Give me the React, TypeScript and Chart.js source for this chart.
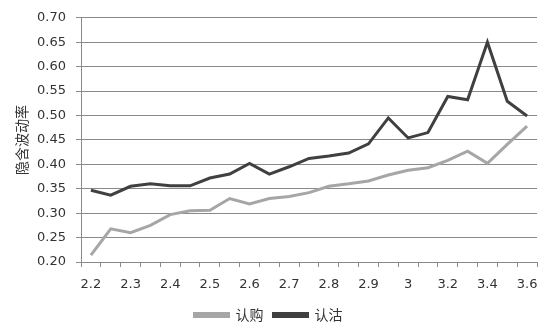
import React, { useEffect, useRef } from "react";
import { Chart, registerables } from "chart.js";

Chart.register(...registerables);

const categories = [
  "2.2", "2.25", "2.3", "2.35", "2.4", "2.45", "2.5", "2.55", "2.6", "2.65",
  "2.7", "2.75", "2.8", "2.85", "2.9", "2.95", "3", "3.1", "3.2", "3.3",
  "3.4", "3.5", "3.6",
];

const callValues = [
  0.214, 0.268, 0.26, 0.275, 0.297, 0.305, 0.306, 0.33, 0.319, 0.33,
  0.334, 0.342, 0.355, 0.36, 0.366, 0.378, 0.388, 0.393, 0.408, 0.427,
  0.402, 0.441, 0.478,
];

const putValues = [
  0.347, 0.337, 0.355, 0.36, 0.356, 0.356, 0.372, 0.38, 0.402, 0.38,
  0.395, 0.412, 0.417, 0.423, 0.442, 0.495, 0.454, 0.465, 0.539, 0.532,
  0.65, 0.529, 0.499,
];

const seriesNames = ["认购", "认沽"];
const yTitle = "隐含波动率";

export default function App() {
  const ref = useRef<HTMLCanvasElement | null>(null);

  useEffect(() => {
    if (!ref.current) return;
    const gridColor = "#8a8a8a";
    const textColor = "#333333";
    const chart = new Chart(ref.current, {
      type: "line",
      data: {
        labels: categories,
        datasets: [
          {
            label: seriesNames[0],
            data: callValues,
            borderColor: "#a6a6a6",
            backgroundColor: "#a6a6a6",
            borderWidth: 3,
            pointRadius: 0,
            tension: 0,
          },
          {
            label: seriesNames[1],
            data: putValues,
            borderColor: "#404040",
            backgroundColor: "#404040",
            borderWidth: 3,
            pointRadius: 0,
            tension: 0,
          },
        ],
      },
      options: {
        responsive: true,
        maintainAspectRatio: false,
        animation: false,
        layout: { padding: { top: 16, right: 13, bottom: 2, left: 0 } },
        plugins: {
          legend: {
            position: "bottom",
            labels: {
              boxWidth: 34,
              boxHeight: 3,
              padding: 10,
              color: textColor,
              font: { family: "'Noto Sans CJK SC'", size: 14 },
            },
          },
          tooltip: { enabled: false },
        },
        scales: {
          x: {
            type: "category",
            offset: true,
            grid: {
              offset: true,
              drawOnChartArea: false,
              drawTicks: true,
              tickLength: 5,
              color: gridColor,
            },
            border: { display: true, color: gridColor },
            ticks: {
              autoSkip: false,
              maxRotation: 0,
              minRotation: 0,
              padding: 10,
              color: textColor,
              font: { family: "'DejaVu Sans'", size: 13 },
              callback: (_v: any, i: number) => (i % 2 === 0 ? categories[i] : ""),
            },
            afterFit: (s: any) => {
              s.height = 36;
            },
          },
          y: {
            min: 0.2,
            max: 0.7,
            grid: { color: gridColor, tickLength: 5, drawTicks: true },
            border: { display: true, color: gridColor },
            ticks: {
              stepSize: 0.05,
              padding: 10,
              color: textColor,
              font: { family: "'DejaVu Sans'", size: 13 },
              callback: (v: any) => Number(v).toFixed(2),
            },
            title: {
              display: true,
              text: yTitle,
              color: textColor,
              font: { family: "'Noto Sans CJK SC'", size: 14 },
              padding: { top: 13, bottom: 0 },
            },
            afterFit: (s: any) => {
              s.width = 81;
            },
          },
        },
      },
    });
    return () => chart.destroy();
  }, []);

  return (
    <div style={{ position: "fixed", left: 0, top: 0, width: 550, height: 334, background: "#fff" }}>
      <canvas ref={ref} />
    </div>
  );
}
